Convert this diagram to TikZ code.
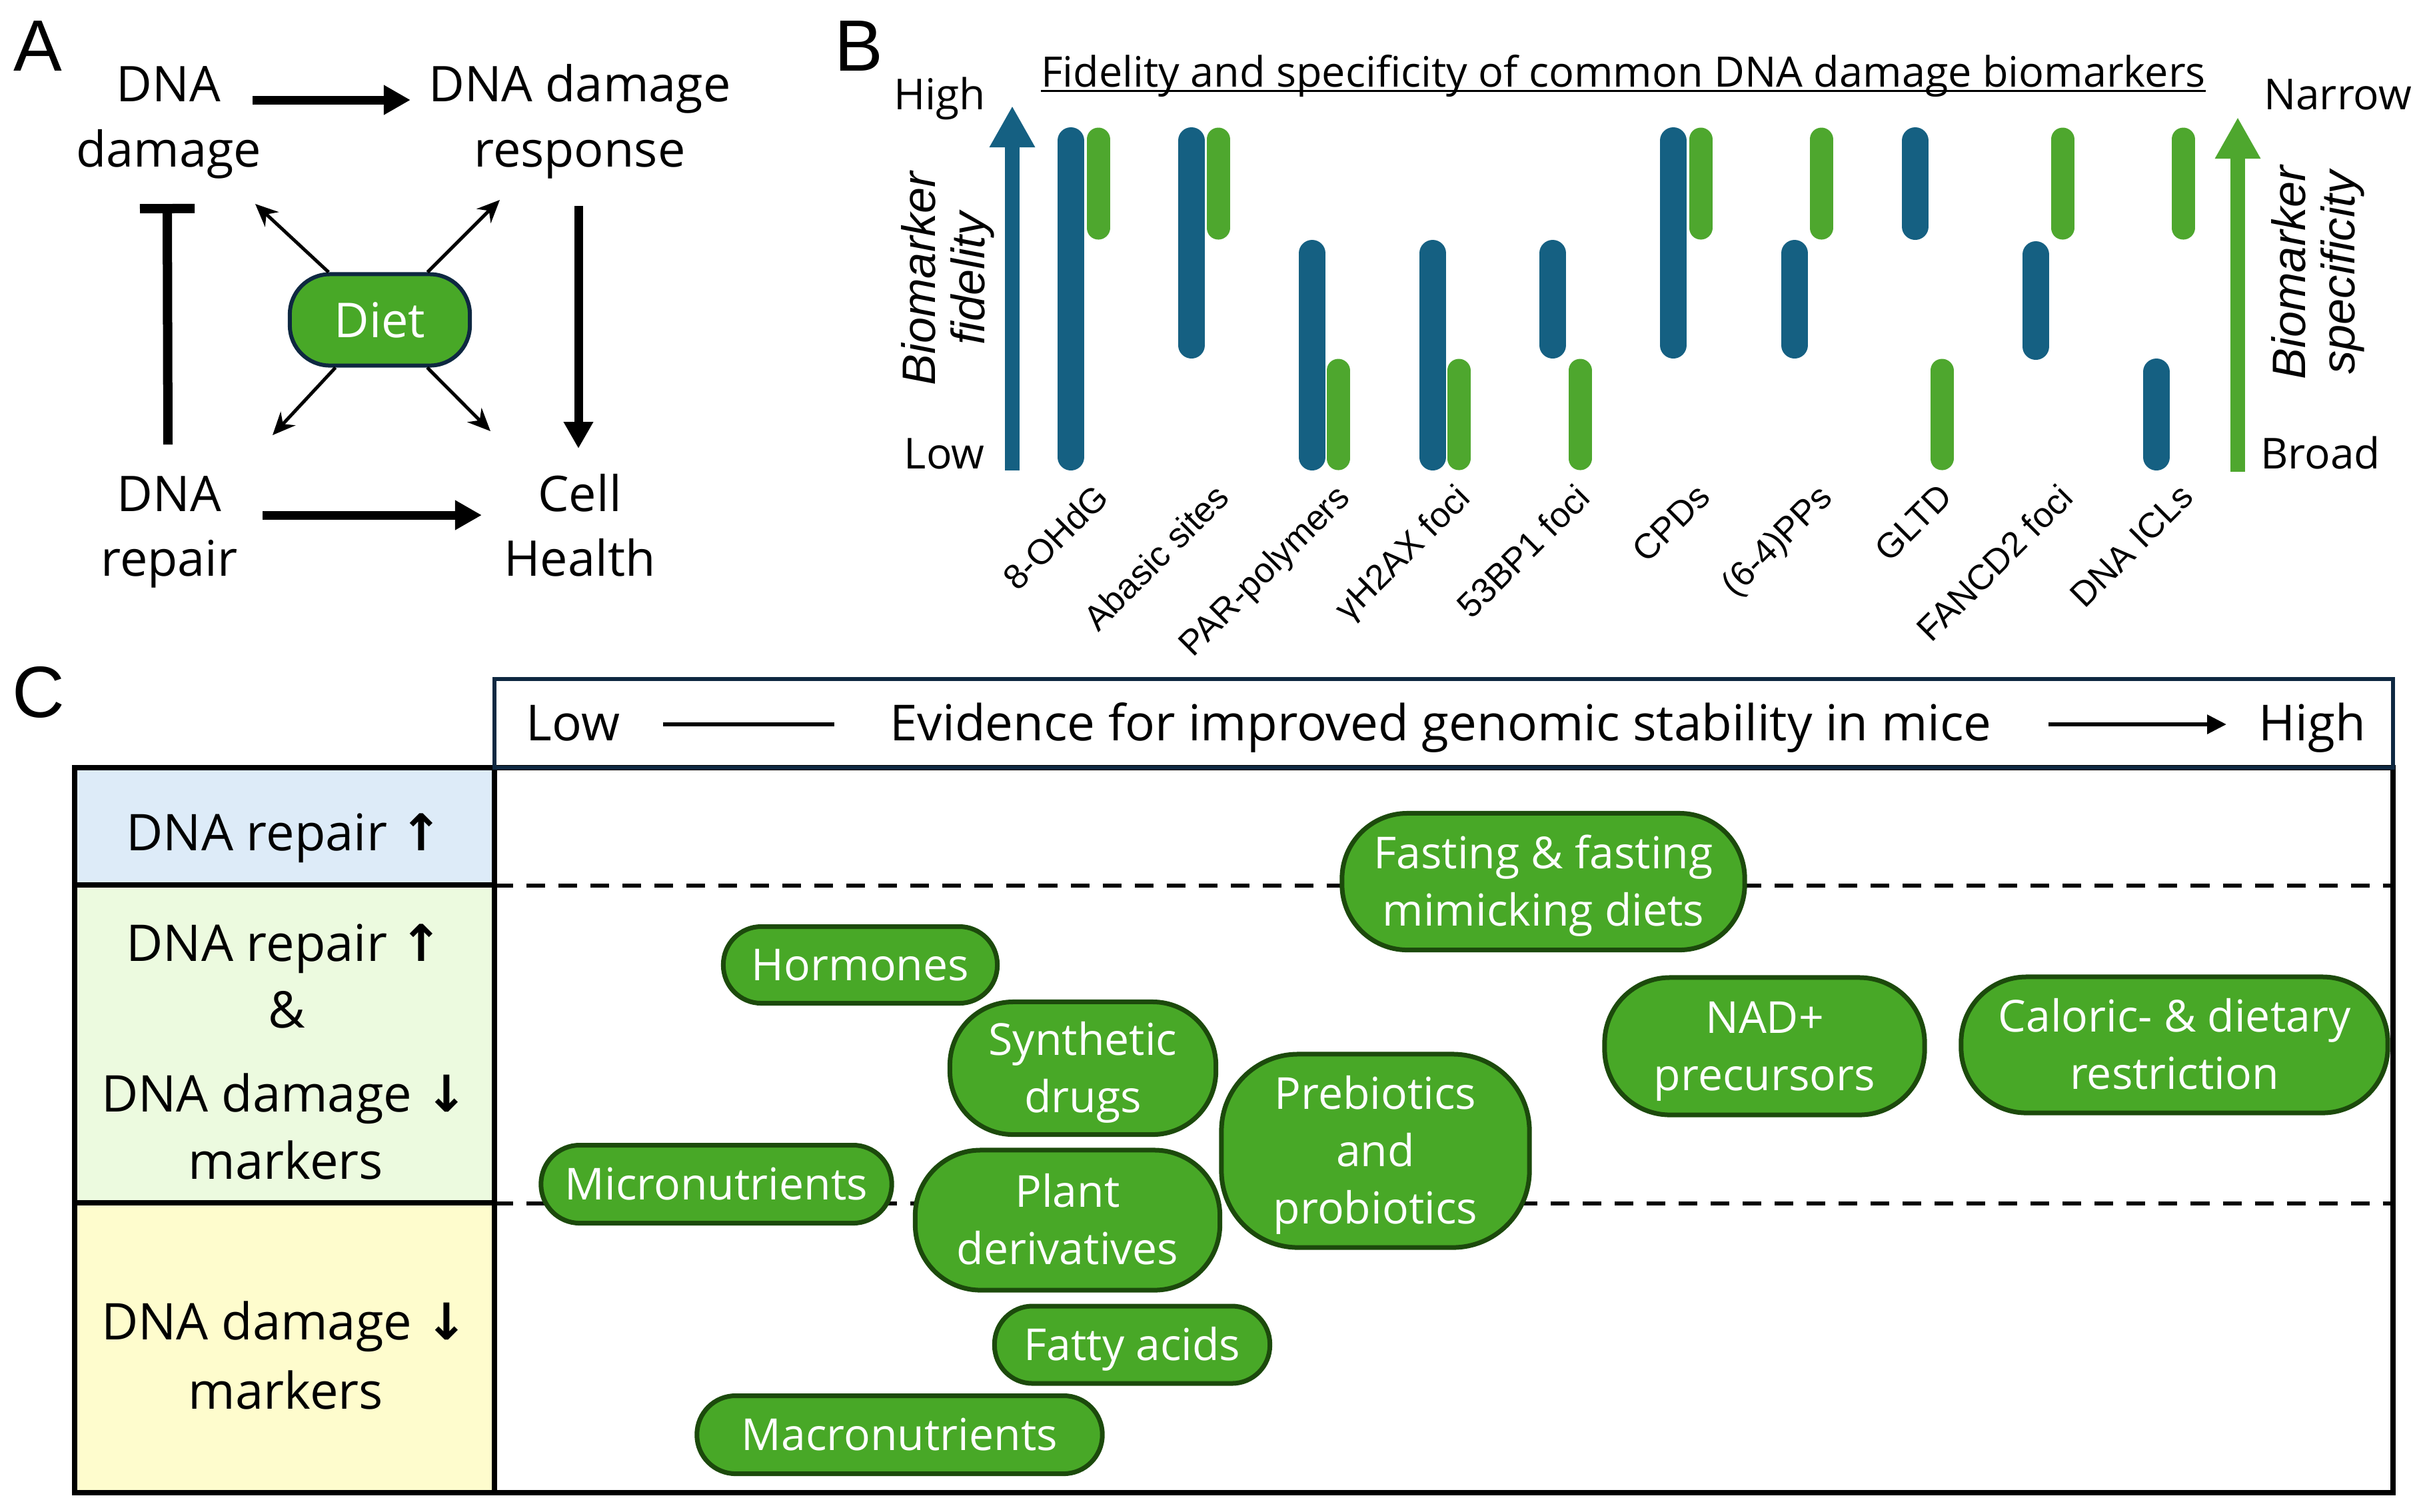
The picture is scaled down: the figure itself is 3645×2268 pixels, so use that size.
\documentclass[tikz,border=0pt]{standalone}
\usepackage{fontspec}
\setmainfont{Open Sans}
\newfontfamily\libsans{Liberation Sans}
\newfontfamily\djv{DejaVu Sans}
\usetikzlibrary{arrows.meta,calc}
\definecolor{bmblue}{HTML}{156082}
\definecolor{bmgreen}{HTML}{4EA72E}
\definecolor{pillfill}{HTML}{48A827}
\definecolor{pilledge}{HTML}{1C4A0C}
\definecolor{navy}{HTML}{0E2841}
\definecolor{cellA}{HTML}{DDEBF8}
\definecolor{cellB}{HTML}{ECFADF}
\definecolor{cellC}{HTML}{FEFCCD}
\newcommand\pst{\rule[-0.25em]{0pt}{1.214em}}
\newcommand\uparr{{\djv\bfseries ↑}}
\newcommand\dnarr{{\djv\bfseries ↓}}
\tikzset{
  txtA/.style={inner sep=0pt, anchor=base, font=\fontsize{21}{27.9}\selectfont},
  panellab/.style={inner sep=0pt, anchor=base west, font=\libsans\fontsize{31}{31}\selectfont},
  bigarrow/.style={line width=0.13cm, -{Triangle[length=0.4cm,width=0.42cm]}},
  thinarrow/.style={line width=0.05cm, -{Stealth[length=0.34cm,width=0.3cm]}},
  dietbox/.style={draw=navy, line width=0.06cm, fill=pillfill, rounded corners=0.6cm,
    minimum width=2.70cm, minimum height=1.37cm, text=white, inner sep=0pt,
    font=\fontsize{20.5}{24}\selectfont},
  hilo/.style={inner sep=0pt, anchor=base, font=\fontsize{18.2}{20}\selectfont},
  titleB/.style={inner sep=0pt, anchor=base, font=\fontsize{17.9}{20}\selectfont},
  axlab/.style={inner sep=0pt, align=center, rotate=90, font=\libsans\itshape\fontsize{20}{21}\selectfont},
  ticklab/.style={inner sep=0pt, anchor=north east, rotate=45, font=\libsans\fontsize{15}{17}\selectfont},
  bluebar/.style={bmblue, line width=0.40cm, line cap=round},
  greenbar/.style={bmgreen, line width=0.35cm, line cap=round},
  hdr/.style={inner sep=0pt, anchor=base, font=\fontsize{21.2}{24}\selectfont},
  cellt/.style={inner sep=0pt, anchor=base, font=\fontsize{21.6}{26}\selectfont},
  pill/.style={draw=pilledge, line width=0.07cm, fill=pillfill, text=white, align=center,
    inner sep=0pt, font=\fontsize{18.8}{24.5}\selectfont},
  dashline/.style={line width=0.06cm, dash pattern=on 0.28cm off 0.2cm},
}
\begin{document}
\begin{tikzpicture}[x=0.01cm, y=-0.01cm]
\useasboundingbox (0,0) rectangle (3645,2268);
\fill[white] (0,0) rectangle (3645,2268);

% ---------------- Panel A ----------------
\node[panellab] (labA) at (20,106) {A};
\node[txtA] (dmg1) at (253,152) {DNA};
\node[txtA] (dmg2) at (253,250) {damage};
\node[txtA] (ddr1) at (870,152) {DNA damage};
\node[txtA] (ddr2) at (870,250) {response};
\node[txtA] (rep1) at (254,767) {DNA};
\node[txtA] (rep2) at (254,864) {repair};
\node[txtA] (cell1) at (870,767) {Cell};
\node[txtA] (cell2) at (870,864) {Health};
\node[dietbox] (diet) at (570,480) {Diet};

\draw[bigarrow] ($(dmg1.base)+(126,-2)$) -- ($(ddr1.base)+(-254,-2)$);
\draw[bigarrow] ($(ddr2.base)+(-2,59)$) -- ($(cell1.base)+(-2,-94)$);
\draw[bigarrow] ($(rep1.base)+(140,6)$) -- ($(cell1.base)+(-147,6)$);
\draw[line width=0.14cm, -{Bar[width=0.82cm]}] ($(rep1.base)+(-2,-100)$) -- ($(dmg2.base)+(-2,56)$);

\coordinate (dtl) at (383,306);
\coordinate (dtr) at (750,300);
\coordinate (dbl) at (409,653);
\coordinate (dbr) at (736,647);
\draw[thinarrow] (diet) -- (dtl);
\draw[thinarrow] (diet) -- (dtr);
\draw[thinarrow] (diet) -- (dbl);
\draw[thinarrow] (diet) -- (dbr);

% ---------------- Panel B ----------------
\node[panellab] (labB) at (1252,106) {B};
\node[titleB] (titB) at (2436,130) {Fidelity and specificity of common DNA damage biomarkers};
\draw[line width=0.03cm] ($(titB.base west)+(0,6)$) -- ($(titB.base east)+(0,6)$);
\node[hilo] (hi) at (1410,164) {High};
\node[hilo] (lo) at (1417,703) {Low};
\node[hilo] (nar) at (3508,164) {Narrow};
\node[hilo] (bro) at (3482,703) {Broad};
\coordinate (fidlo) at (1519,706);
\coordinate (fidhi) at (1519,159);
\coordinate (speclo) at (3358,708);
\coordinate (spechi) at (3358,176);
\draw[bmblue, line width=0.22cm, -{Triangle[length=0.62cm,width=0.64cm]}] (fidlo) -- (fidhi);
\draw[bmgreen, line width=0.22cm, -{Triangle[length=0.62cm,width=0.64cm]}] (speclo) -- (spechi);
\node[axlab] (fidlab) at (1422,418) {Biomarker\\fidelity};
\node[axlab] (speclab) at (3478,409) {Biomarker\\specificity};

\foreach \x/\a/\b in {1607/191/706, 1788/191/538, 1969/360/706, 2150/360/706, 2330/360/538,
  2511/191/538, 2693/360/538, 2874/191/360, 3055/362/540, 3236/538/706}
  \draw[bluebar] (\x,\a+20) -- (\x,\b-20);
\foreach \x/\a/\b in {1648/191/360, 1828/191/360, 2008/538/706, 2189/538/706, 2371/538/706,
  2552/191/360, 2733/191/360, 2914/538/706, 3095/191/360, 3276/191/360}
  \draw[greenbar] (\x,\a+18) -- (\x,\b-18);

\foreach \x/\t [count=\i] in {1607/8-OHdG, 1788/Abasic sites, 1969/PAR-polymers,
  2150/γH2AX foci, 2330/53BP1 foci, 2511/CPDs, 2693/(6-4)PPs, 2874/GLTD,
  3055/FANCD2 foci, 3236/DNA ICLs}
  \node[ticklab] (tick\i) at (\x+32,722) {\t};

% ---------------- Panel C ----------------
\node[panellab] (labC) at (18,1076) {C};
\fill[cellA] (112,1152) rectangle (742,1328);
\fill[cellB] (112,1328) rectangle (742,1805);
\fill[cellC] (112,1805) rectangle (742,2240);
\draw[dashline] (742,1329) -- (3591,1329);
\draw[dashline] (742,1806) -- (3591,1806);
\draw[line width=0.08cm] (112,1328) -- (742,1328);
\draw[line width=0.08cm] (112,1805) -- (742,1805);
\draw[line width=0.08cm] (112,1152) rectangle (3591,2240);
\draw[line width=0.08cm] (742,1152) -- (742,2240);
\draw[navy, line width=0.065cm] (742,1019) rectangle (3591,1152);

\node[hdr] (lowC) at (860,1111) {Low};
\node[hdr] (evid) at (2162,1111) {Evidence for improved genomic stability in mice};
\node[hdr] (highC) at (3470,1111) {High};
\draw[line width=0.06cm] ($(lowC.base)+(135,-24)$) -- ($(evid.base)+(-910,-24)$);
\draw[line width=0.06cm, -{Triangle[length=0.29cm,width=0.28cm]}] ($(evid.base)+(912,-24)$) -- ($(highC.base)+(-129,-24)$);

\node[cellt] (c1) at (427,1276) {DNA repair \uparr};
\node[cellt] (c2a) at (427,1442) {DNA repair \uparr};
\node[cellt] (c2b) at (430,1542) {\&};
\node[cellt] (c2c) at (427,1668) {DNA damage \dnarr};
\node[cellt] (c2d) at (429,1769) {markers};
\node[cellt] (c3a) at (427,2010) {DNA damage \dnarr};
\node[cellt] (c3b) at (429,2114) {markers};

\node[pill, minimum width=6.04cm, minimum height=2.05cm, rounded corners=0.98cm] (fast) at (2316,1323) {\pst Fasting \& fasting\\\pst mimicking diets};
\node[pill, minimum width=4.11cm, minimum height=1.15cm, rounded corners=0.57cm] (horm) at (1291,1448) {\pst Hormones};
\node[pill, minimum width=3.99cm, minimum height=1.99cm, rounded corners=0.95cm] (synth) at (1625,1603) {\pst Synthetic\\\pst drugs};
\node[pill, minimum width=4.80cm, minimum height=2.06cm, rounded corners=0.98cm] (nad) at (2648,1570) {\pst NAD+\\\pst precursors};
\node[pill, minimum width=6.40cm, minimum height=2.04cm, rounded corners=0.98cm] (calor) at (3263,1568) {\pst Caloric- \& dietary\\\pst restriction};
\node[pill, minimum width=4.62cm, minimum height=2.90cm, rounded corners=1.15cm] (prebio) at (2064,1727) {\pst Prebiotics\\\pst and\\\pst probiotics};
\node[pill, minimum width=5.26cm, minimum height=1.17cm, rounded corners=0.58cm] (micro) at (1075,1777) {\pst Micronutrients};
\node[pill, minimum width=4.57cm, minimum height=2.10cm, rounded corners=0.98cm] (plant) at (1602,1831) {\pst Plant\\\pst derivatives};
\node[pill, minimum width=4.13cm, minimum height=1.16cm, rounded corners=0.57cm] (fatty) at (1699,2018) {\pst Fatty acids};
\node[pill, minimum width=6.08cm, minimum height=1.17cm, rounded corners=0.58cm] (macro) at (1350,2153) {\pst Macronutrients};
\end{tikzpicture}
\end{document}
